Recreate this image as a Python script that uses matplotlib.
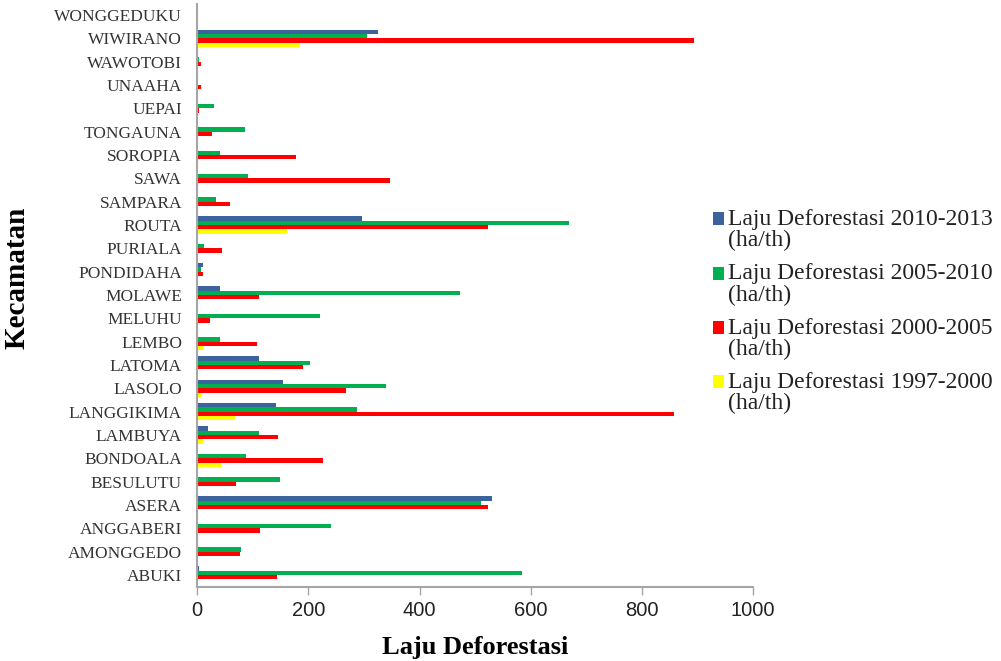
import matplotlib.pyplot as plt
import numpy as np
from matplotlib.container import BarContainer
from matplotlib.legend_handler import HandlerPatch
from matplotlib.patches import Rectangle

# categories, bottom to top
kecamatan = ["ABUKI", "AMONGGEDO", "ANGGABERI", "ASERA", "BESULUTU", "BONDOALA",
             "LAMBUYA", "LANGGIKIMA", "LASOLO", "LATOMA", "LEMBO", "MELUHU",
             "MOLAWE", "PONDIDAHA", "PURIALA", "ROUTA", "SAMPARA", "SAWA",
             "SOROPIA", "TONGAUNA", "UEPAI", "UNAAHA", "WAWOTOBI", "WIWIRANO",
             "WONGGEDUKU"]

# ha/th, same order as kecamatan
laju_2010_2013 = [3, 0, 0, 530, 0, 0, 19, 141, 155, 111, 0, 0,
                  40, 10, 0, 297, 0, 0, 0, 0, 0, 0, 0, 325, 0]
laju_2005_2010 = [584, 78, 240, 511, 148, 87, 111, 288, 340, 203, 40, 221,
                  472, 7, 12, 668, 33, 92, 40, 86, 30, 0, 3, 305, 0]
laju_2000_2005 = [143, 76, 113, 523, 70, 226, 145, 858, 267, 191, 107, 22,
                  111, 10, 45, 523, 58, 346, 178, 26, 3, 6, 6, 893, 0]
laju_1997_2000 = [0, 0, 0, 0, 0, 42, 10, 68, 8, 0, 12, 0,
                  0, 0, 0, 161, 0, 0, 0, 0, 0, 0, 0, 185, 0]

series = [
    ("Laju Deforestasi 2010-2013\n(ha/th)", laju_2010_2013, "#3B639C"),
    ("Laju Deforestasi 2005-2010\n(ha/th)", laju_2005_2010, "#00B050"),
    ("Laju Deforestasi 2000-2005\n(ha/th)", laju_2000_2005, "#FF0000"),
    ("Laju Deforestasi 1997-2000\n(ha/th)", laju_1997_2000, "#FFFF00"),
]


class FirstLineHandler(HandlerPatch):
    # put the legend square next to the first line of a two line label
    def create_artists(self, legend, orig_handle, xdescent, ydescent,
                       width, height, fontsize, trans):
        col = orig_handle.patches[0].get_facecolor()
        p = Rectangle((-xdescent, -ydescent + 0.47 * fontsize), width, height,
                      facecolor=col, edgecolor="none", transform=trans)
        return [p]


fig = plt.figure(figsize=(10.01, 6.61), dpi=100)
ax = fig.add_axes([0.1971, 0.1127, 0.5552, 0.882])

y = np.arange(len(kecamatan))
h = 0.185
offsets = [1.5 * h, 0.5 * h, -0.5 * h, -1.5 * h]
handles = []
for (label, vals, col), off in zip(series, offsets):
    b = ax.barh(y + off, vals, height=h, color=col, label=label)
    handles.append(b)

ax.set_xlim(0, 1000)
ax.set_ylim(-0.5, len(kecamatan) - 0.5)
ax.set_yticks(y)
ax.set_yticklabels(kecamatan, family="Liberation Serif", fontsize=12.5,
                   color="#333333")
ax.set_xticks([0, 200, 400, 600, 800, 1000])
ax.tick_params(axis="x", direction="out", length=5.5, width=1, color="#A6A6A6",
               pad=5, labelsize=14.5, labelcolor="#222222")
for t in ax.get_xticklabels():
    t.set_family("Liberation Sans")
ax.tick_params(axis="y", length=0, pad=11)

for s in ["top", "right"]:
    ax.spines[s].set_visible(False)
for s in ["left", "bottom"]:
    ax.spines[s].set_color("#A6A6A6")
    ax.spines[s].set_linewidth(1.5)

ax.set_xlabel("Laju Deforestasi", family="Liberation Serif", fontweight="bold",
              fontsize=19)
ax.xaxis.set_label_coords(0.5, -0.104)
ax.xaxis.label.set_va("center")
ax.set_ylabel("Kecamatan", family="Liberation Serif", fontweight="bold",
              fontsize=21)
ax.yaxis.set_label_coords(-0.325, 0.53)
ax.yaxis.label.set_va("center")

leg = fig.legend(handles=handles, loc="upper left",
                 bbox_to_anchor=(713 / 1001, 1 - 209 / 661),
                 frameon=False, borderpad=0, borderaxespad=0,
                 prop={"family": "Liberation Serif", "size": 17},
                 handlelength=0.45, handleheight=0.47, handletextpad=0.2,
                 labelspacing=0.52,
                 handler_map={BarContainer: FirstLineHandler()})
for t in leg.get_texts():
    t.set_linespacing(1.0)
    t.set_color("#222222")

plt.savefig("out.png", dpi=100)
